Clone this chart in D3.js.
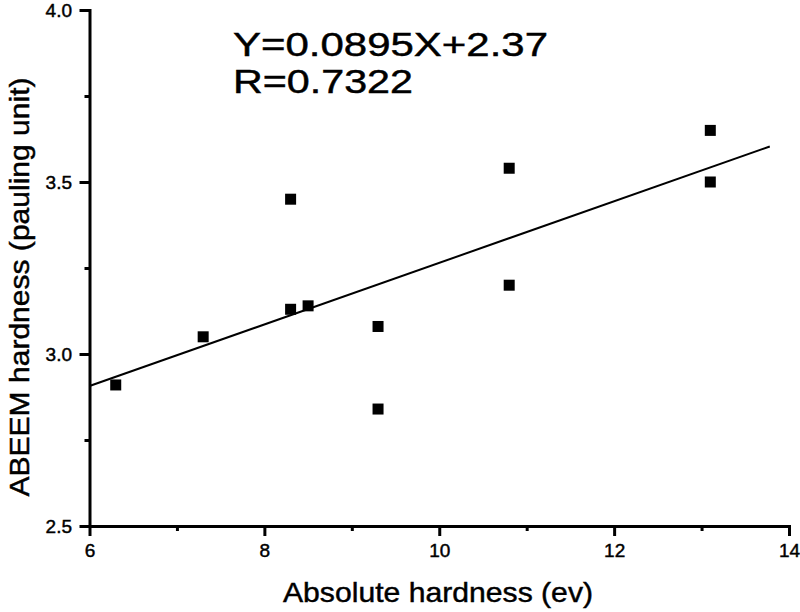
<!DOCTYPE html>
<html>
<head>
<meta charset="utf-8">
<script src="https://cdn.jsdelivr.net/npm/d3@7"></script>
<style>
  html, body { margin: 0; padding: 0; background: #fff; }
  svg { display: block; }
  text { font-family: "Liberation Sans", Arial, Helvetica, sans-serif; fill: #000; stroke: #000; stroke-width: 0.45px; }
</style>
</head>
<body>
<svg id="chart" width="800" height="612"></svg>
<script>
// ---- data ----
const xValues = [6.3, 7.3, 8.3, 8.3, 8.5, 9.3, 9.3, 10.8, 10.8, 13.1, 13.1];
const yValues = [2.91, 3.05, 3.45, 3.13, 3.14, 3.08, 2.84, 3.54, 3.20, 3.65, 3.50];
const fitSlope = 0.0895;
const fitIntercept = 2.37;
const fitXRange = [6, 13.78];
const xMajorTicks = [6, 8, 10, 12, 14];
const xMinorTicks = [7, 9, 11, 13];
const yMajorTicks = [2.5, 3.0, 3.5, 4.0];
const yMinorTicks = [2.75, 3.25, 3.75];
const equationLines = ["Y=0.0895X+2.37", "R=0.7322"];
const xTitle = "Absolute hardness (ev)";
const yTitle = "ABEEM hardness (pauling unit)";

// ---- layout ----
const svg = d3.select("#chart");
const mLeft = 89.5, mRight = 789, mTop = 10, mBottom = 526;

const x = d3.scaleLinear().domain([6, 14]).range([mLeft, mRight]);
const y = d3.scaleLinear().domain([2.5, 4.0]).range([mBottom, mTop]);

// x axis
const gx = svg.append("g").attr("transform", `translate(0,${mBottom})`);
gx.call(d3.axisBottom(x).tickValues(xMajorTicks).tickFormat(d3.format("d"))
  .tickSize(10).tickSizeOuter(0).tickPadding(8));
gx.append("g").call(d3.axisBottom(x).tickValues(xMinorTicks).tickFormat("")
  .tickSize(5).tickSizeOuter(0))
  .select(".domain").remove();

// y axis
const gy = svg.append("g").attr("transform", `translate(${mLeft},0)`);
gy.call(d3.axisLeft(y).tickValues(yMajorTicks).tickFormat(d3.format(".1f"))
  .tickSize(10).tickSizeOuter(0).tickPadding(7.5));
gy.append("g").call(d3.axisLeft(y).tickValues(yMinorTicks).tickFormat("")
  .tickSize(5).tickSizeOuter(0))
  .select(".domain").remove();

svg.selectAll(".domain").style("stroke", "#000").style("stroke-width", "3px").style("stroke-linecap", "square");
svg.selectAll(".tick line").style("stroke", "#000").style("stroke-width", "3px");
svg.selectAll(".tick text").style("font-size", "19px")
  .style("font-family", '"Liberation Sans", Arial, sans-serif').style("fill", "#000");

// fit line
svg.append("line")
  .attr("x1", x(fitXRange[0])).attr("y1", y(fitSlope * fitXRange[0] + fitIntercept))
  .attr("x2", x(fitXRange[1])).attr("y2", y(fitSlope * fitXRange[1] + fitIntercept))
  .attr("stroke", "#000").attr("stroke-width", 2);

// points
const sz = 11;
svg.append("g").selectAll("rect").data(xValues.map((v, i) => [v, yValues[i]]))
  .join("rect")
  .attr("x", d => x(d[0]) - sz / 2).attr("y", d => y(d[1]) - sz / 2)
  .attr("width", sz).attr("height", sz).attr("fill", "#000");

// equation text
svg.append("text").attr("x", 233).attr("y", 56).attr("font-size", 32.5)
  .attr("textLength", 315).attr("lengthAdjust", "spacingAndGlyphs").text(equationLines[0]);
svg.append("text").attr("x", 233).attr("y", 93).attr("font-size", 32.5)
  .attr("textLength", 180).attr("lengthAdjust", "spacingAndGlyphs").text(equationLines[1]);

// axis titles
svg.append("text").attr("x", 438).attr("y", 602).attr("text-anchor", "middle")
  .attr("font-size", 28).attr("textLength", 310).attr("lengthAdjust", "spacingAndGlyphs")
  .text(xTitle);
svg.append("text").attr("transform", "translate(29,287) rotate(-90)")
  .attr("text-anchor", "middle").attr("font-size", 28.5)
  .attr("textLength", 419).attr("lengthAdjust", "spacingAndGlyphs")
  .text(yTitle);
</script>
</body>
</html>
